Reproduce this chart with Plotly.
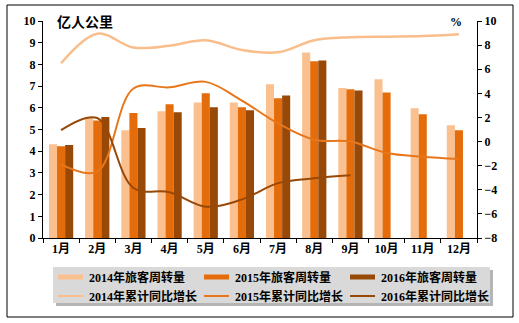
import plotly.graph_objects as go

# Monthly passenger turnover (100 million person-km) and cumulative YoY growth (%)
months = ["1月", "2月", "3月", "4月", "5月", "6月", "7月", "8月", "9月", "10月", "11月", "12月"]

turnover_2014 = [4.32, 5.55, 4.97, 5.84, 6.25, 6.25, 7.08, 8.55, 6.91, 7.31, 5.98, 5.20]
turnover_2015 = [4.23, 5.42, 5.76, 6.16, 6.67, 6.02, 6.44, 8.15, 6.85, 6.71, 5.70, 4.97]
turnover_2016 = [4.28, 5.58, 5.07, 5.79, 6.02, 5.89, 6.57, 8.18, 6.80]

growth_2014 = [6.5, 8.95, 7.8, 7.95, 8.4, 7.6, 7.4, 8.4, 8.65, 8.7, 8.75, 8.9]
growth_2015 = [-1.9, -2.5, 4.4, 4.5, 4.95, 3.4, 1.5, 0.15, 0.0, -0.95, -1.25, -1.45]
growth_2016 = [0.95, 1.95, -3.85, -4.2, -5.4, -4.8, -3.45, -3.05, -2.8]

bar_names = ["2014年旅客周转量", "2015年旅客周转量", "2016年旅客周转量"]
line_names = ["2014年累计同比增长", "2015年累计同比增长", "2016年累计同比增长"]

bar_colors = ["#FAC08F", "#E46C0A", "#984807"]
line_colors = ["#F9BE8C", "#E8761A", "#984807"]
line_widths = [2.5, 2, 2]

FONT = "Liberation Serif, Noto Sans CJK SC, sans-serif"
CJK = "Noto Sans CJK SC, sans-serif"

fig = go.Figure()

for name, vals, col in zip(bar_names, [turnover_2014, turnover_2015, turnover_2016], bar_colors):
    fig.add_trace(go.Bar(x=months[:len(vals)], y=vals, name=name,
                         marker=dict(color=col, line=dict(width=0)),
                         showlegend=False))

for name, vals, col, w in zip(line_names, [growth_2014, growth_2015, growth_2016], line_colors, line_widths):
    fig.add_trace(go.Scatter(x=months[:len(vals)], y=vals, name=name, yaxis="y2",
                             mode="lines", line=dict(color=col, width=w, shape="spline", smoothing=1.0),
                             showlegend=False))

# Plot area geometry (pixels) used to place the frame and legend in paper units
L, R, T, B = 43, 477, 21, 238
W, H = R - L, B - T


def px(x):
    return (x - L) / W


def py(y):
    return (B - y) / H


shapes = []
annotations = []

# Outer frame around the whole chart
shapes.append(dict(type="rect", xref="paper", yref="paper",
                   x0=px(7), x1=px(513), y0=py(317), y1=py(5),
                   line=dict(color="black", width=1), fillcolor="rgba(0,0,0,0)", layer="above"))

# Legend panel with drop shadow
shapes.append(dict(type="rect", xref="paper", yref="paper",
                   x0=px(56), x1=px(493), y0=py(306), y1=py(270),
                   line=dict(width=0), fillcolor="rgba(120,120,120,0.55)", layer="below"))
shapes.append(dict(type="rect", xref="paper", yref="paper",
                   x0=px(53), x1=px(490), y0=py(303), y1=py(267),
                   line=dict(width=0), fillcolor="#D9D9D9", layer="below"))

col_x = [58, 204, 350]
row_y = [277, 296]
legend_font = dict(family=FONT, size=12, color="black", weight="bold")
for i in range(3):
    # bar swatch
    shapes.append(dict(type="line", xref="paper", yref="paper",
                       x0=px(col_x[i]), x1=px(col_x[i] + 25), y0=py(row_y[0]), y1=py(row_y[0]),
                       line=dict(color=bar_colors[i], width=5)))
    annotations.append(dict(x=px(col_x[i] + 29), y=py(row_y[0]), xref="paper", yref="paper",
                            text=bar_names[i], showarrow=False, xanchor="left", yanchor="middle",
                            font=legend_font))
    # line swatch
    shapes.append(dict(type="line", xref="paper", yref="paper",
                       x0=px(col_x[i]), x1=px(col_x[i] + 25), y0=py(row_y[1]), y1=py(row_y[1]),
                       line=dict(color=line_colors[i], width=2)))
    annotations.append(dict(x=px(col_x[i] + 29), y=py(row_y[1]), xref="paper", yref="paper",
                            text=line_names[i], showarrow=False, xanchor="left", yanchor="middle",
                            font=legend_font))

# Axis unit labels
annotations.append(dict(x=px(55), y=py(21), xref="paper", yref="paper", text="亿人公里",
                        showarrow=False, xanchor="left", yanchor="middle",
                        font=dict(family=CJK, size=14, color="black", weight="bold")))
annotations.append(dict(x=px(464), y=py(22), xref="paper", yref="paper", text="%",
                        showarrow=False, xanchor="right", yanchor="middle",
                        font=dict(family=FONT, size=12, color="black", weight="bold")))

tickfont = dict(family=FONT, size=12, color="black", weight="bold")

fig.update_layout(
    width=519, height=323,
    margin=dict(l=L, r=519 - R, t=T, b=323 - B),
    paper_bgcolor="white", plot_bgcolor="white",
    barmode="group", bargap=0.33, bargroupgap=0,
    showlegend=False,
    xaxis=dict(type="category", categoryorder="array", categoryarray=months,
               range=[-0.5, 11.5], showline=True, linecolor="black", linewidth=1,
               ticks="outside", tickson="boundaries", ticklen=4, tickcolor="black",
               tickfont=tickfont, showgrid=False),
    yaxis=dict(range=[0, 10], dtick=1, showline=True, linecolor="black", linewidth=1,
               ticks="outside", ticklen=4, tickcolor="black", tickfont=tickfont,
               showgrid=False, zeroline=False),
    yaxis2=dict(range=[-8, 10], dtick=2, overlaying="y", side="right",
                showline=True, linecolor="black", linewidth=1,
                ticks="outside", ticklen=4, tickcolor="black", tickfont=tickfont,
                showgrid=False, zeroline=False),
    shapes=shapes,
    annotations=annotations,
)

fig.write_html("out.html")
